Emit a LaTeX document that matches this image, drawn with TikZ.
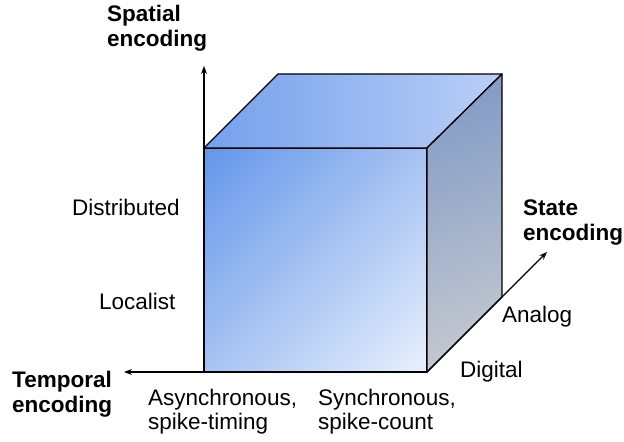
\documentclass[tikz,border=0pt]{standalone}
\usepackage{fontspec}
\setmainfont{Liberation Sans}
\usetikzlibrary{arrows.meta, positioning}
\definecolor{frontTL}{RGB}{100,150,234}
\definecolor{frontBR}{RGB}{232,240,252}
\definecolor{topL}{RGB}{116,160,236}
\definecolor{topR}{RGB}{186,207,246}
\definecolor{sideT}{RGB}{132,156,198}
\definecolor{sideB}{RGB}{194,199,207}
% front face: colours reach the corners when turned by 45 degrees
\pgfdeclareverticalshading{frontshade}{100bp}{color(0bp)=(frontBR); color(14.6bp)=(frontBR);
	color(85.4bp)=(frontTL); color(100bp)=(frontTL)}
\tikzset{
  cube/.style={
	draw=black, line width=1.3bp, line join=round, % edges of the box
  },
  axis/.style={
	-{Stealth[length=8bp,width=6bp]}, % small filled tips
	line width=1.1bp,
  },
  lbl/.style={inner sep=0pt, anchor=base west, align=left,
	font=\fontsize{22.5bp}{23.5bp}\selectfont}, % plain labels, anchored on the last line
  title/.style={lbl, font=\bfseries\fontsize{22.5bp}{25bp}\selectfont}, % axis names
}

\begin{document}
\begin{tikzpicture}[x=1bp, y=-1bp]
\useasboundingbox (0,0) rectangle (624,442);

% corners of the box
\coordinate (ftl) at (204,148);
\coordinate (ftr) at (427,148);
\coordinate (fbl) at (204,372);
\coordinate (fbr) at (427,372);
\coordinate (btl) at (278,74);
\coordinate (btr) at (502,74);
\coordinate (bbr) at (502,297);
% axis tips
\coordinate (sp) at (204,66);
\coordinate (tp) at (124,372);
\coordinate (st) at (547,252);

\draw[cube, shading=frontshade, shading angle=45] (ftl) -- (ftr) -- (fbr) -- (fbl) -- cycle;
\draw[cube, left color=topL, right color=topR] (ftl) -- (btl) -- (btr) -- (ftr) -- cycle;
\draw[cube, top color=sideT, bottom color=sideB, shading angle=20] (ftr) -- (btr) -- (bbr) -- (fbr) -- cycle;

\draw[axis] (ftl) -- (sp);
\draw[axis] (fbl) -- (tp);
\draw[axis] (fbr) -- (st);

\node[title] (spatial) at (107,47) {Spatial\\encoding};
\node[title] (state) at (523,241) {State\\encoding};
\node[title] (temporal) at (12,412) {Temporal\\encoding};

\node[lbl] (distr) at (72,216) {Distributed};
\node[lbl] (local) at (99,310) {Localist};
\node[lbl] (async) at (148,429) {Asynchronous,\\spike-timing};
\node[lbl] (sync) at (318,429) {Synchronous,\\spike-count};
\node[lbl] (analog) at (502,322) {Analog};
\node[lbl] (digital) at (460,377) {Digital};
\end{tikzpicture}
\end{document}
